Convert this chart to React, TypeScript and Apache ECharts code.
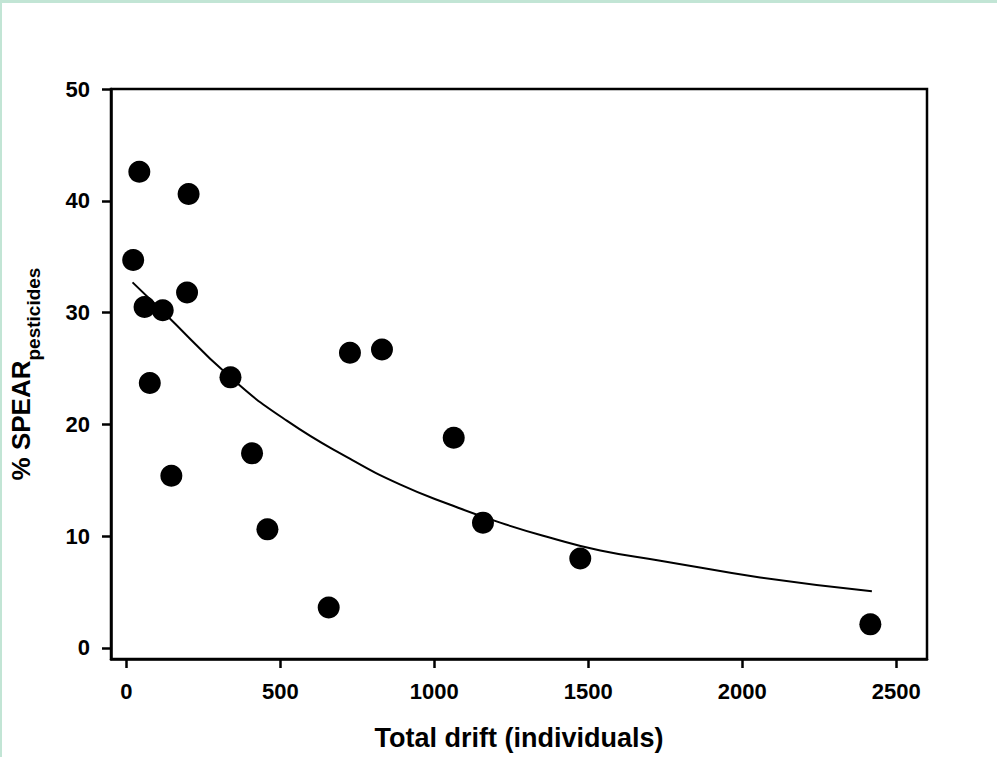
import React, { useEffect, useRef } from "react";
import * as echarts from "echarts";

const driftX = [22, 42, 59, 76, 118, 146, 197, 202, 338, 408, 458, 657, 726, 830, 1063, 1158, 1474, 2416];
const spearY = [34.7, 42.6, 30.5, 23.7, 30.2, 15.4, 31.8, 40.6, 24.2, 17.4, 10.6, 3.6, 26.4, 26.7, 18.8, 11.2, 8.0, 2.1];

const fitX = [20, 118, 338, 522, 727, 890, 1052, 1214, 1377, 1539, 1734, 2058, 2421];
const fitY = [32.7, 30.1, 24.2, 20.3, 16.9, 14.6, 12.8, 11.2, 9.85, 8.7, 7.8, 6.3, 5.07];

const xTicks = [0, 500, 1000, 1500, 2000, 2500];
const yTicks = [0, 10, 20, 30, 40, 50];

const FONT = "'Liberation Sans', Arial, sans-serif";

export default function App() {
  const ref = useRef<HTMLDivElement>(null);
  useEffect(() => {
    if (!ref.current) return;
    const chart = echarts.init(ref.current, null, { renderer: "svg" });
    const points = driftX.map((x, i) => [x, spearY[i]]);
    const fit = fitX.map((x, i) => [x, fitY[i]]);
    chart.setOption({
      animation: false,
      backgroundColor: "#ffffff",
      graphic: [
        { type: "rect", left: 0, top: 0, shape: { width: 997, height: 3 }, style: { fill: "#c2e5d5" } },
        { type: "rect", left: 0, top: 0, shape: { width: 2, height: 757 }, style: { fill: "#c2e5d5" } },
      ],
      grid: {
        left: 111,
        top: 89,
        right: 70,
        bottom: 98,
        show: true,
        borderColor: "#000",
        borderWidth: 2.5,
        backgroundColor: "transparent",
      },
      xAxis: {
        type: "value",
        min: -50,
        max: 2600,
        splitLine: { show: false },
        axisLine: { show: true, onZero: false, lineStyle: { color: "#000", width: 2.5 } },
        axisTick: { show: true, length: 9, lineStyle: { color: "#000", width: 2.5 }, customValues: xTicks },
        axisLabel: {
          customValues: xTicks,
          formatter: (v: number) => String(v),
          margin: 21,
          color: "#000",
          fontFamily: FONT,
          fontWeight: "bold",
          fontSize: 22,
        },
        name: "Total drift (individuals)",
        nameLocation: "middle",
        nameGap: 65,
        nameTextStyle: { color: "#000", fontFamily: FONT, fontWeight: "bold", fontSize: 27 },
      },
      yAxis: {
        type: "value",
        min: -1,
        max: 50,
        splitLine: { show: false },
        axisLine: { show: true, onZero: false, lineStyle: { color: "#000", width: 2.5 } },
        axisTick: { show: true, length: 9, lineStyle: { color: "#000", width: 2.5 }, customValues: yTicks },
        axisLabel: {
          customValues: yTicks,
          formatter: (v: number) => String(v),
          margin: 21,
          color: "#000",
          fontFamily: FONT,
          fontWeight: "bold",
          fontSize: 22,
        },
        name: "{m|% SPEAR}{s|pesticides}",
        nameLocation: "middle",
        nameGap: 77,
        nameTextStyle: {
          color: "#000",
          fontFamily: FONT,
          fontWeight: "bold",
          rich: {
            m: { fontSize: 26, lineHeight: 26, fontFamily: FONT, fontWeight: "bold", color: "#000", verticalAlign: "top" },
            s: {
              fontSize: 19,
              lineHeight: 19,
              fontFamily: FONT,
              fontWeight: "bold",
              color: "#000",
              verticalAlign: "top",
              padding: [16, 0, 0, 0],
            },
          },
        },
      },
      series: [
        {
          type: "line",
          data: fit,
          smooth: 0.5,
          showSymbol: false,
          symbol: "none",
          lineStyle: { color: "#000", width: 2 },
          z: 2,
        },
        {
          type: "scatter",
          data: points,
          symbol: "circle",
          symbolSize: 22,
          itemStyle: { color: "#000", opacity: 1 },
          z: 3,
        },
      ],
    });
    return () => chart.dispose();
  }, []);
  return (
    <div
      ref={ref}
      style={{ position: "absolute", left: 0, top: 0, width: 997, height: 757 }}
    />
  );
}
